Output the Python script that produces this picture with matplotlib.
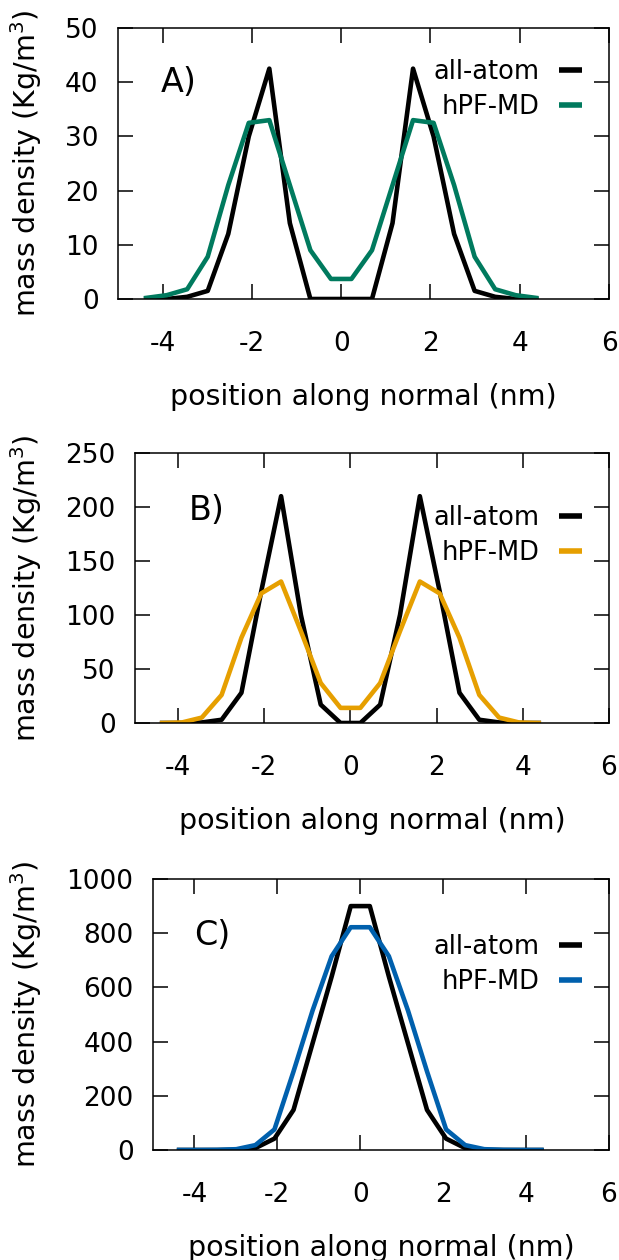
import matplotlib
matplotlib.use("Agg")
import matplotlib.pyplot as plt

# positions along the membrane normal (nm)
position = [-4.37, -3.91, -3.45, -2.99, -2.53, -2.07, -1.61, -1.15, -0.69, -0.23,
            0.23, 0.69, 1.15, 1.61, 2.07, 2.53, 2.99, 3.45, 3.91, 4.37]

# A) mass density (Kg/m^3)
a_allatom = [0, 0, 0.4, 1.5, 12, 30, 42.5, 14, 0, 0,
             0, 0, 14, 42.5, 30, 12, 1.5, 0.4, 0, 0]
a_hpf = [0.2, 0.7, 1.8, 7.8, 21, 32.5, 33, 21, 9, 3.7,
         3.7, 9, 21, 33, 32.5, 21, 7.8, 1.8, 0.7, 0.2]

# B)
b_allatom = [0, 0, 0.5, 3, 28, 122, 210, 100, 17, 0,
             0, 17, 100, 210, 122, 28, 3, 0.5, 0, 0]
b_hpf = [0, 0.5, 5, 26, 79, 120, 131, 85, 37, 14,
         14, 37, 85, 131, 120, 79, 26, 5, 0.5, 0]

# C)
c_allatom = [0, 0, 0, 0.5, 7, 42, 148, 394, 640, 900,
             900, 640, 394, 148, 42, 7, 0.5, 0, 0, 0]
c_hpf = [0, 0, 0.5, 3, 18, 76, 290, 515, 715, 822,
         822, 715, 515, 290, 76, 18, 3, 0.5, 0, 0]

allatom = [a_allatom, b_allatom, c_allatom]
hpf = [a_hpf, b_hpf, c_hpf]

panel_labels = ["A)", "B)", "C)"]
hpf_colors = ["#007a5e", "#e69f00", "#0060ad"]
y_max = [50, 250, 1000]
y_step = [10, 50, 200]
label_pos = [(-4.05, 40), (-3.75, 197), (-4.0, 793)]

# axes rectangles in pixels: left, right, top, bottom
W, H = 619, 1260
boxes = [(118, 609, 28, 299), (135, 609, 453, 723), (153, 609, 879, 1150)]
legend_top = [59, 505, 934]  # pixel row of the legend's top edge

plt.rcParams["font.family"] = "DejaVu Sans"
plt.rcParams["mathtext.fontset"] = "dejavusans"
plt.rcParams["axes.unicode_minus"] = False
fs_label = 20.5
fs_tick = 19
fs_key = 18.5
fs_panel = 24

fig = plt.figure(figsize=(W / 100, H / 100), dpi=100)

for i in range(3):
    l, r, t, b = boxes[i]
    ax = fig.add_axes([l / W, 1 - b / H, (r - l) / W, (b - t) / H])
    ax.plot(position, allatom[i], color="black", lw=3.3, label="all-atom")
    ax.plot(position, hpf[i], color=hpf_colors[i], lw=3.3, label="hPF-MD")

    ax.set_xlim(-5, 6)
    ax.set_ylim(0, y_max[i])
    ax.set_xticks([-4, -2, 0, 2, 4, 6])
    ax.set_yticks(list(range(0, y_max[i] + 1, y_step[i])))
    ax.tick_params(direction="in", length=11, width=1.1, labelsize=fs_tick,
                   top=True, right=True)
    ax.tick_params(axis="x", pad=23)
    ax.tick_params(axis="y", pad=14)
    for s in ax.spines.values():
        s.set_linewidth(1.1)

    ax.set_xlabel("position along normal (nm)", fontsize=fs_label, labelpad=19)
    ax.set_ylabel("mass density (Kg/m$^3$)", fontsize=fs_label)
    ax.yaxis.set_label_coords((44 - l) / (r - l), 0.5)

    ax.text(label_pos[i][0], label_pos[i][1], panel_labels[i], fontsize=fs_panel,
            ha="left", va="center")

    leg = ax.legend(loc="upper right",
                    bbox_to_anchor=((582 - l) / (r - l), (b - legend_top[i]) / (b - t)),
                    frameon=False, markerfirst=False, fontsize=fs_key,
                    handlelength=0.9, handletextpad=0.75, labelspacing=0.35,
                    borderaxespad=0, borderpad=0)
    for line in leg.get_lines():
        line.set_solid_capstyle("butt")
        line.set_linewidth(4)
    for col in leg._legend_handle_box.get_children():
        col.align = "right"

fig.savefig("out.png", dpi=100)
